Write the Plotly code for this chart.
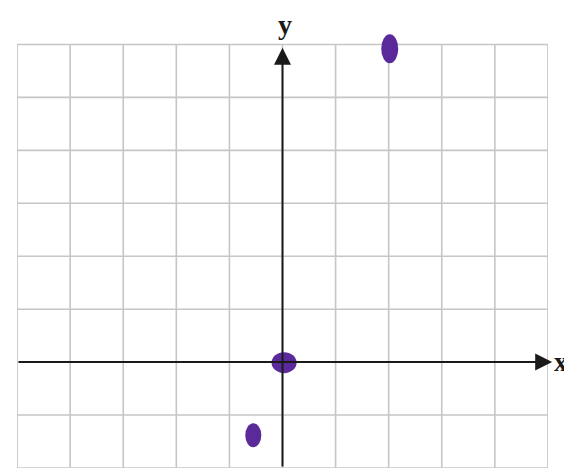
import plotly.graph_objects as go

# Data
point_x = [2.02, 0.03, -0.55]
point_y = [5.92, -0.01, -1.38]
x_ticks = list(range(-5, 6))
y_ticks = list(range(-2, 7))

# blob sizes in pixels (width, height) - style
blob_w = [17, 25, 16]
blob_h = [29, 21, 24]
purple = "#5a2a9a"
grid_col = "#c6c6c6"

fig = go.Figure()

# grid from tick lists
for xv in x_ticks:
    fig.add_shape(type="line", xref="x", yref="y", x0=xv, x1=xv, y0=y_ticks[0], y1=y_ticks[-1],
                  line=dict(color=grid_col, width=1.6), layer="below")
for yv in y_ticks:
    fig.add_shape(type="line", xref="x", yref="y", x0=x_ticks[0], x1=x_ticks[-1], y0=yv, y1=yv,
                  line=dict(color=grid_col, width=1.6), layer="below")

fig.add_trace(go.Scatter(
    x=point_x, y=point_y, mode="markers",
    marker=dict(color=purple, size=14, opacity=1, line=dict(width=0)),
    hoverinfo="skip", showlegend=False, cliponaxis=False,
))

for px, py, w, h in zip(point_x, point_y, blob_w, blob_h):
    fig.add_shape(type="circle", xref="x", yref="y", xsizemode="pixel", ysizemode="pixel",
                  xanchor=px, yanchor=py, x0=-w / 2, x1=w / 2, y0=-h / 2, y1=h / 2,
                  fillcolor=purple, line=dict(width=0), layer="above")

fig.update_xaxes(range=[-5.001, 5.001], showticklabels=False, showgrid=False,
                 zeroline=False, showline=False, ticks="")
fig.update_yaxes(range=[-2, 6.5], showticklabels=False, showgrid=False,
                 zeroline=False, showline=False, ticks="")

# axes arrows
fig.add_annotation(x=5.08, y=0, ax=-5, ay=0, axref="x", ayref="y", xref="x", yref="y",
                   text="", showarrow=True, arrowhead=2, arrowsize=1.7, arrowwidth=2,
                   arrowcolor="#1a1a1a")
fig.add_annotation(x=0, y=5.94, ax=0, ay=-2, axref="x", ayref="y", xref="x", yref="y",
                   text="", showarrow=True, arrowhead=2, arrowsize=1.7, arrowwidth=2,
                   arrowcolor="#1a1a1a")
fig.add_annotation(x=0.504, y=0.9856, xref="paper", yref="paper", text="<b>y</b>",
                   showarrow=False, xanchor="center", yanchor="middle",
                   font=dict(family="Liberation Serif", size=28, color="#1a1a1a"))
fig.add_annotation(x=1.008, y=0.2353, xref="paper", yref="paper", text="<b>x</b>",
                   showarrow=False, xanchor="left", yanchor="middle",
                   font=dict(family="Liberation Serif", size=27, color="#1a1a1a"))

fig.update_layout(width=564, height=468, margin=dict(l=17, r=16, t=17.5, b=0, pad=0),
                  plot_bgcolor="white", paper_bgcolor="white")

fig.write_html("out.html", config={"displayModeBar": False},
               post_script="document.body.style.margin='0';document.body.style.overflow='hidden';")
